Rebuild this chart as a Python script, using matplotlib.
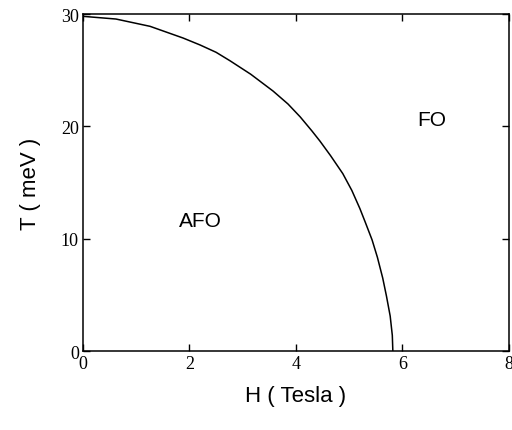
import matplotlib
matplotlib.use("Agg")
import matplotlib.pyplot as plt

# phase boundary
H_tesla = [0.0, 0.62, 1.26, 1.88, 2.20, 2.50, 2.76, 3.15, 3.57, 3.85, 4.08, 4.30, 4.45, 4.65,
           4.88, 5.05, 5.20, 5.30, 5.43, 5.53, 5.63, 5.70, 5.77, 5.81, 5.82]
T_mev = [29.8, 29.56, 28.91, 27.87, 27.25, 26.6, 25.85, 24.65, 23.15, 22.0, 20.85, 19.6, 18.7, 17.4,
         15.8, 14.3, 12.7, 11.5, 9.9, 8.35, 6.5, 4.9, 3.12, 1.4, 0.0]

xticks = [0, 2, 4, 6, 8]
yticks = [0, 10, 20, 30]

fig = plt.figure(figsize=(5.12, 4.31), dpi=100)
ax = fig.add_axes([0.162, 0.183, 0.832, 0.782])

ax.plot(H_tesla, T_mev, color="black", lw=1.1)

ax.set_xlim(0, 8)
ax.set_ylim(0, 30)
ax.set_xticks(xticks)
ax.set_yticks(yticks)
ax.tick_params(direction="in", top=True, right=True, length=5, width=1, pad=3,
               labelsize=13)
for lab in ax.get_xticklabels() + ax.get_yticklabels():
    lab.set_family("Liberation Serif")
for s in ax.spines.values():
    s.set_linewidth(1.1)

ax.set_xlabel("H ( Tesla )", fontsize=16, family="Liberation Sans", labelpad=9)
ax.set_ylabel("T ( meV )", fontsize=16, family="Liberation Sans", labelpad=14)

ax.text(2.2, 11.6, "AFO", fontsize=15, family="Liberation Sans", ha="center", va="center")
ax.text(6.55, 20.6, "FO", fontsize=15, family="Liberation Sans", ha="center", va="center")

fig.savefig("out.png", dpi=100)
